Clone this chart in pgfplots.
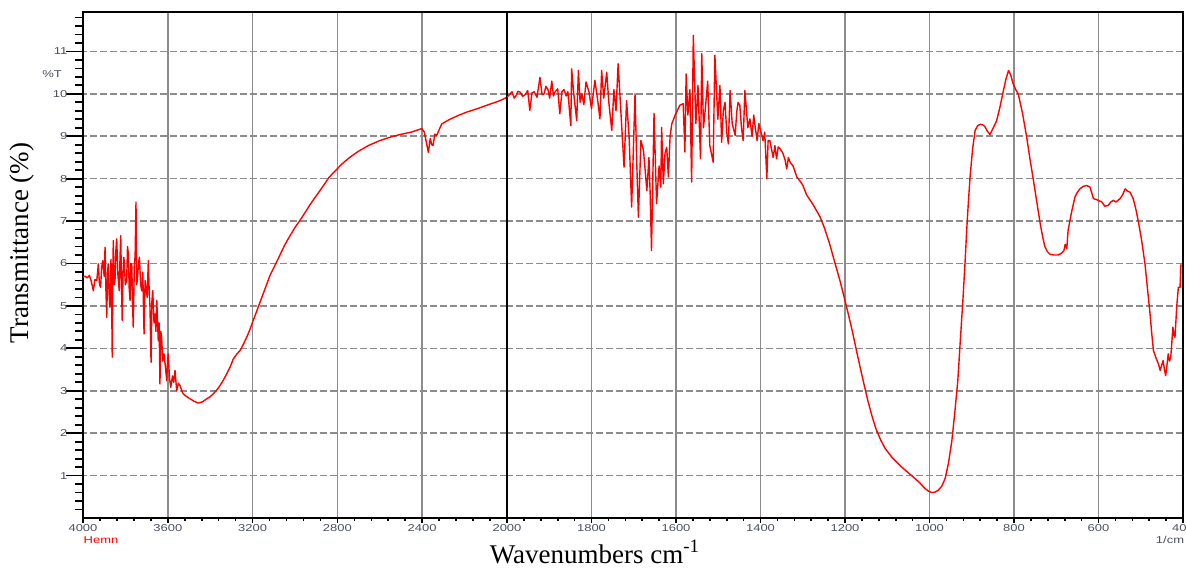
\documentclass[border=0pt]{standalone}
\usepackage{fontspec}
\usepackage{pgfplots}
\pgfplotsset{compat=1.18}
\setmainfont{Liberation Serif}
\newfontfamily\tickfont[FakeStretch=1.3]{Liberation Sans}
\definecolor{ticktext}{HTML}{4A5060}
\definecolor{gridgray}{HTML}{8C8C8C}
\newcommand{\tickfs}{\tickfont\fontsize{5}{6}\selectfont}

\pgfplotsset{
  irbase/.style={
    scale only axis, height=253pt, ymin=0, ymax=11.93,
    x dir=reverse, tick align=outside,
    axis line style={line width=1.3pt, black},
    ytick={1,...,11},
    ymajorgrids, xmajorgrids,
    x grid style={gridgray, line width=0.9pt},
    y grid style={gridgray, line width=0.8pt, dash pattern=on 3.5pt off 1.5pt},
    xtick style={black, line width=0.8pt, /pgfplots/major tick length=2.5pt, /pgfplots/minor tick length=1.5pt},
    tick label style={font=\tickfs, text=ticktext},
    xticklabel style={yshift=4.5pt},
    /pgf/number format/assume math mode=true,
    /pgf/number format/1000 sep={},
    xtick pos=bottom,
  },
  irline/.style={red, line width=0.7pt, no marks, line join=round},
}

\begin{document}
\begin{tikzpicture}
\path[use as bounding box] (0,0) rectangle (593pt,286pt);

\begin{axis}[irbase, at={(41.5pt,27pt)}, anchor=south west, width=212pt,
  xmin=2000, xmax=4000,
  xtick={4000,3600,3200,2800,2400},
  minor xtick={3920,3840,...,2080},
  minor ytick={0.2,0.4,...,11.8},
  ytick pos=left,
  ytick style={black, line width=0.9pt, /pgfplots/major tick length=8.5pt, /pgfplots/minor tick length=4pt},
]
\addplot[irline] coordinates {
(4000,5.68) (3990,5.70) (3980,5.66) (3970,5.72) (3962,5.60) (3955,5.45) (3951,5.36)
(3944,5.62) (3935,5.60) (3930,5.85) (3928,5.99) (3922,5.50) (3917,5.44) (3912,5.90)
(3907,6.07) (3900,5.70) (3896,6.38) (3892,5.40) (3888,4.73) (3884,5.80) (3881,5.99)
(3877,5.30) (3873,4.97) (3868,6.10) (3865,5.20) (3862,3.79) (3859,5.90) (3857,6.54)
(3853,5.50) (3849,5.60) (3845,6.30) (3841,6.58) (3835,5.70) (3829,5.36) (3825,6.20)
(3822,6.66) (3818,5.40) (3815,4.66) (3811,5.80) (3807,6.15) (3800,5.50) (3794,5.60)
(3790,6.40) (3786,6.23) (3782,5.40) (3778,5.13) (3774,6.00) (3770,5.99) (3766,5.00)
(3763,4.50) (3758,5.90) (3754,6.20) (3750,7.45) (3747,5.50) (3744,5.60) (3738,6.00)
(3734,6.15) (3728,5.50) (3723,5.36) (3718,5.80) (3712,4.34) (3707,5.60) (3703,5.44)
(3697,5.20) (3692,6.07) (3688,5.40) (3684,4.97) (3679,3.67) (3675,5.10) (3671,5.36)
(3665,4.60) (3660,4.81) (3656,4.40) (3652,5.13) (3648,4.60) (3645,4.18) (3641,4.60)
(3637,3.16) (3633,4.40) (3629,4.26) (3624,3.70) (3618,3.87) (3612,3.60) (3605,3.24)
(3601,3.70) (3598,3.87) (3592,3.30) (3586,3.08) (3578,3.35) (3572,3.20) (3566,3.48)
(3558,3.00) (3550,3.18) (3542,3.12) (3530,2.95) (3519,2.89) (3495,2.81) (3475,2.75)
(3456,2.71) (3436,2.74) (3416,2.81) (3400,2.86) (3385,2.93) (3370,3.01) (3354,3.12)
(3338,3.25) (3322,3.40) (3306,3.56) (3291,3.75) (3275,3.86) (3259,3.95) (3243,4.10)
(3228,4.26) (3212,4.45) (3197,4.66) (3181,4.87) (3165,5.09) (3140,5.42) (3118,5.72)
(3095,5.95) (3071,6.20) (3050,6.42) (3030,6.60) (3000,6.85) (2976,7.02) (2950,7.22)
(2930,7.38) (2905,7.56) (2882,7.72) (2860,7.88) (2840,8.03) (2807,8.20) (2780,8.34)
(2750,8.47) (2720,8.58) (2693,8.67) (2650,8.79) (2599,8.90) (2550,8.98) (2505,9.04)
(2450,9.10) (2402,9.18) (2390,9.10) (2371,8.62) (2362,8.95) (2355,8.80) (2349,8.78)
(2340,9.05) (2332,9.02) (2308,9.29) (2270,9.40) (2230,9.49) (2190,9.57) (2140,9.65)
(2090,9.74) (2033,9.84) (2000,9.92)
};
\end{axis}

\begin{axis}[irbase, at={(253.5pt,27pt)}, anchor=south west, width=338pt,
  xmin=400, xmax=2000,
  xtick={2000,1800,...,400},
  minor xtick={1960,1920,...,440},
  yticklabels={}, ytick style={draw=none},
]
\addplot[irline] coordinates {
(2000,9.92) (1994,9.98) (1988,10.05) (1983,9.90) (1979,9.95) (1974,10.06) (1969,10.04)
(1963,9.94) (1957,9.98) (1951,10.08) (1946,9.61) (1941,10.02) (1936,10.05) (1929,9.92)
(1922,10.39) (1917,9.98) (1912,10.00) (1908,10.18) (1903,10.10) (1899,9.90) (1894,10.30)
(1890,9.95) (1886,10.05) (1880,10.12) (1875,9.53) (1870,10.05) (1865,10.10) (1860,9.95)
(1856,10.05) (1849,9.25) (1847,10.59) (1842,10.00) (1835,9.37) (1831,10.55) (1827,9.80)
(1823,10.00) (1818,9.75) (1813,10.28) (1806,10.05) (1800,9.65) (1792,10.32) (1786,9.90)
(1780,9.41) (1776,10.55) (1771,9.90) (1764,10.51) (1759,9.80) (1752,9.14) (1747,10.10)
(1742,9.60) (1737,10.71) (1730,9.50) (1723,8.27) (1717,9.84) (1711,9.00) (1705,7.33)
(1697,10.00) (1693,8.40) (1689,7.09) (1683,8.90) (1677,8.67) (1673,8.20) (1669,7.72)
(1664,8.50) (1661,7.60) (1658,6.31) (1652,9.54) (1646,7.41) (1640,8.30) (1636,7.80)
(1634,9.21) (1630,7.88) (1626,8.60) (1622,8.74) (1618,8.04) (1614,9.00) (1610,9.29)
(1602,9.50) (1591,9.73) (1583,9.77) (1579,8.63) (1576,10.47) (1572,9.50) (1567,10.10)
(1563,7.92) (1559,11.38) (1553,9.30) (1548,10.20) (1542,8.47) (1539,10.95) (1535,9.20)
(1531,9.60) (1525,10.30) (1520,8.78) (1512,8.39) (1508,10.91) (1501,9.40) (1496,10.20)
(1492,8.86) (1488,9.60) (1484,9.80) (1480,9.10) (1476,8.82) (1472,10.08) (1467,9.30)
(1460,9.02) (1456,9.60) (1453,9.80) (1449,9.73) (1445,9.20) (1441,8.90) (1437,10.08)
(1430,9.20) (1425,9.41) (1420,9.00) (1416,9.50) (1413,9.25) (1408,8.90) (1404,9.30)
(1401,9.18) (1394,8.90) (1390,9.10) (1385,8.00) (1382,8.90) (1378,8.90) (1374,8.70)
(1370,8.50) (1366,8.78) (1362,8.47) (1358,8.75) (1354,8.71) (1347,8.60) (1342,8.45)
(1338,8.23) (1334,8.50) (1330,8.39) (1323,8.30) (1314,8.04) (1307,7.95) (1300,7.85)
(1291,7.62) (1275,7.38) (1259,7.10) (1248,6.82) (1236,6.45) (1224,6.02) (1212,5.60)
(1200,5.13) (1192,4.80) (1183,4.42) (1174,4.00) (1165,3.59) (1155,3.15) (1146,2.77)
(1136,2.40) (1127,2.11) (1116,1.85) (1105,1.64) (1088,1.42) (1070,1.24) (1052,1.08)
(1034,0.93) (1022,0.82) (1011,0.70) (1002,0.63) (994,0.60) (987,0.61) (980,0.65)
(971,0.75) (963,0.93) (955,1.30) (947,1.83) (940,2.50) (933,3.24) (927,4.20)
(921,5.13) (916,6.00) (912,6.78) (908,7.45) (904,8.04) (898,8.70) (892,9.14)
(886,9.25) (880,9.28) (874,9.27) (869,9.23) (863,9.12) (857,9.04) (849,9.20)
(841,9.37) (833,9.70) (825,10.08) (819,10.35) (813,10.55) (808,10.45) (802,10.24)
(796,10.10) (790,10.00) (780,9.55) (770,8.98) (762,8.45) (754,7.96) (746,7.45)
(738,6.94) (732,6.62) (727,6.40) (721,6.28) (715,6.22) (706,6.20) (696,6.20)
(688,6.24) (682,6.30) (679,6.45) (675,6.35) (672,6.78) (664,7.20) (656,7.56)
(650,7.68) (644,7.76) (636,7.82) (628,7.84) (620,7.80) (612,7.53) (603,7.50)
(592,7.45) (585,7.35) (577,7.37) (571,7.45) (565,7.49) (559,7.45) (549,7.53)
(543,7.62) (537,7.76) (533,7.72) (530,7.70) (525,7.68) (518,7.53) (512,7.30)
(506,7.01) (498,6.55) (490,5.99) (484,5.40) (478,4.81) (474,4.35) (470,3.95)
(463,3.75) (458,3.63) (454,3.48) (450,3.62) (447,3.71) (444,3.50) (441,3.36)
(438,3.60) (435,3.87) (432,3.70) (429,3.79) (426,4.20) (424,4.50) (421,4.30)
(419,4.26) (417,4.60) (415,4.97) (411,5.44) (407,5.44) (405,5.98)
};
\end{axis}

\node[rotate=90, font=\fontsize{13.5}{16}\selectfont] at (11pt,164.5pt) {Transmittance (\%)};
\node[font=\fontsize{13.5}{16}\selectfont] at (297.5pt,10pt) {Wavenumbers cm\textsuperscript{-1}};
\node[font=\tickfs, text=ticktext] at (26pt,249pt) {\%T};
\node[font=\tickfs, text=red] at (50.5pt,16pt) {Hemn};
\node[font=\tickfs, text=ticktext] at (585pt,16pt) {1/cm};
\end{tikzpicture}
\end{document}
